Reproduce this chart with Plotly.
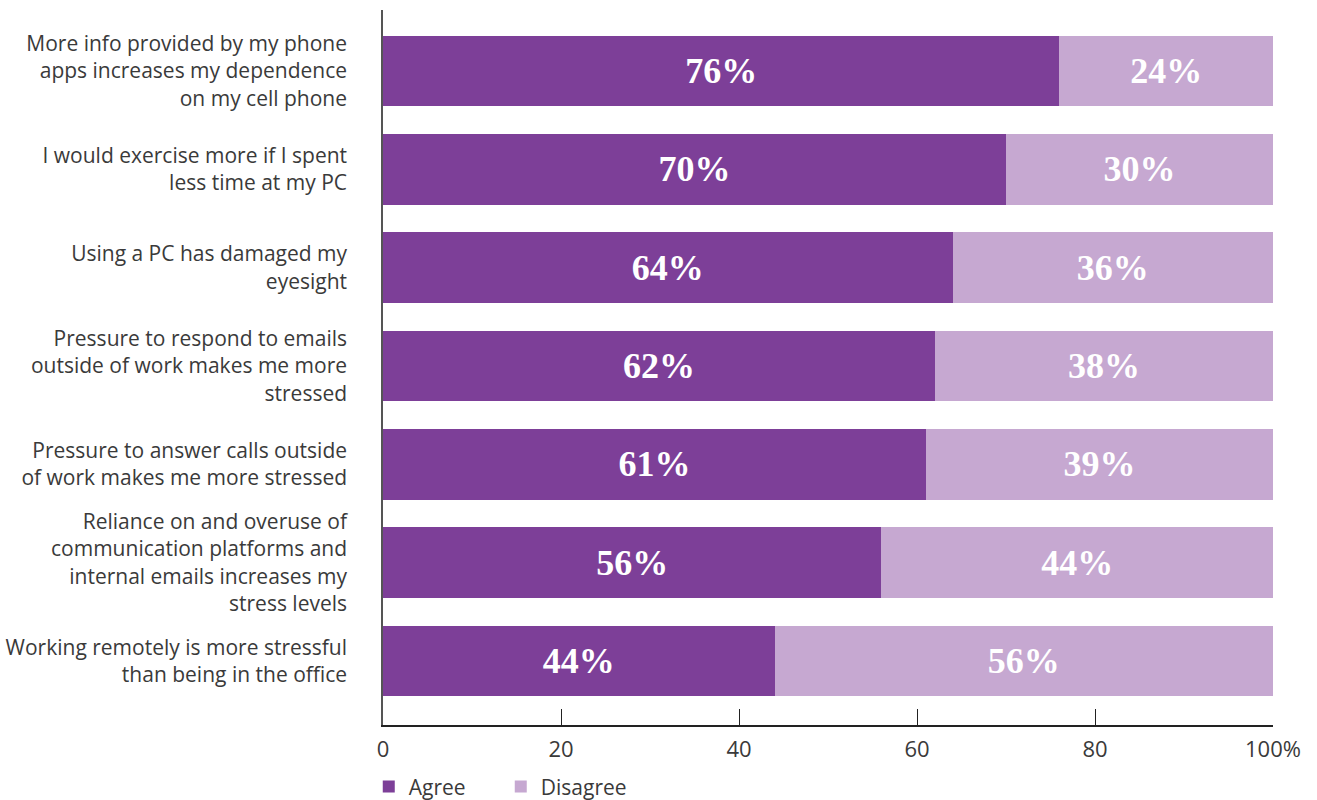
import plotly.graph_objects as go

statements = [
    "More info provided by my phone<br>apps increases my dependence<br>on my cell phone",
    "I would exercise more if I spent<br>less time at my PC",
    "Using a PC has damaged my<br>eyesight",
    "Pressure to respond to emails<br>outside of work makes me more<br>stressed",
    "Pressure to answer calls outside<br>of work makes me more stressed",
    "Reliance on and overuse of<br>communication platforms and<br>internal emails increases my<br>stress levels",
    "Working remotely is more stressful<br>than being in the office",
]
agree = [76, 70, 64, 62, 61, 56, 44]
disagree = [24, 30, 36, 38, 39, 44, 56]
x_ticks = [0, 20, 40, 60, 80, 100]
x_tick_labels = ["0", "20", "40", "60", "80", "100%"]

AGREE_COLOR = "#7d3f98"
DISAGREE_COLOR = "#c6a8d1"
TEXT_COLOR = "#3a3a3a"
label_font = dict(family="Liberation Serif", size=36, color="white")

fig = go.Figure()
for name, vals, color in [("Agree", agree, AGREE_COLOR), ("Disagree", disagree, DISAGREE_COLOR)]:
    fig.add_trace(go.Bar(
        name=name,
        y=statements,
        x=vals,
        orientation="h",
        marker=dict(color=color, line=dict(width=0)),
        width=0.72,
        text=[f"<b>{v}%</b>" for v in vals],
        textposition="inside",
        insidetextanchor="middle",
        textfont=label_font,
        hoverinfo="skip",
    ))

fig.update_layout(
    barmode="stack",
    width=1317,
    height=800,
    margin=dict(l=383, r=44, t=10, b=75, autoexpand=False),
    paper_bgcolor="white",
    plot_bgcolor="white",
    font=dict(family="Open Sans", size=20, color=TEXT_COLOR),
    showlegend=True,
    legend=dict(
        orientation="h",
        traceorder="normal",
        x=-0.016, xanchor="left",
        y=-0.058, yanchor="top",
        font=dict(family="Open Sans", size=21, color=TEXT_COLOR),
        itemwidth=30,
        entrywidth=87,
        entrywidthmode="pixels",
        tracegroupgap=0,
    ),
)

fig.update_xaxes(
    range=[0, 100],
    tickvals=x_ticks,
    ticktext=x_tick_labels,
    ticks="inside",
    ticklen=16,
    tickcolor="#222",
    tickwidth=1.2,
    ticklabelstandoff=4,
    showline=True,
    linecolor="#222",
    linewidth=1.5,
    showgrid=False,
    zeroline=False,
    tickfont=dict(family="Open Sans", size=22, color=TEXT_COLOR),
)

fig.update_yaxes(
    type="category",
    categoryorder="array",
    categoryarray=statements,
    range=[6.65, -0.62],
    showline=True,
    linecolor="#555",
    linewidth=1.5,
    showgrid=False,
    ticks="",
    ticklabelstandoff=30,
    tickfont=dict(family="Open Sans", size=21, color=TEXT_COLOR),
)

fig.write_html("out.html")
